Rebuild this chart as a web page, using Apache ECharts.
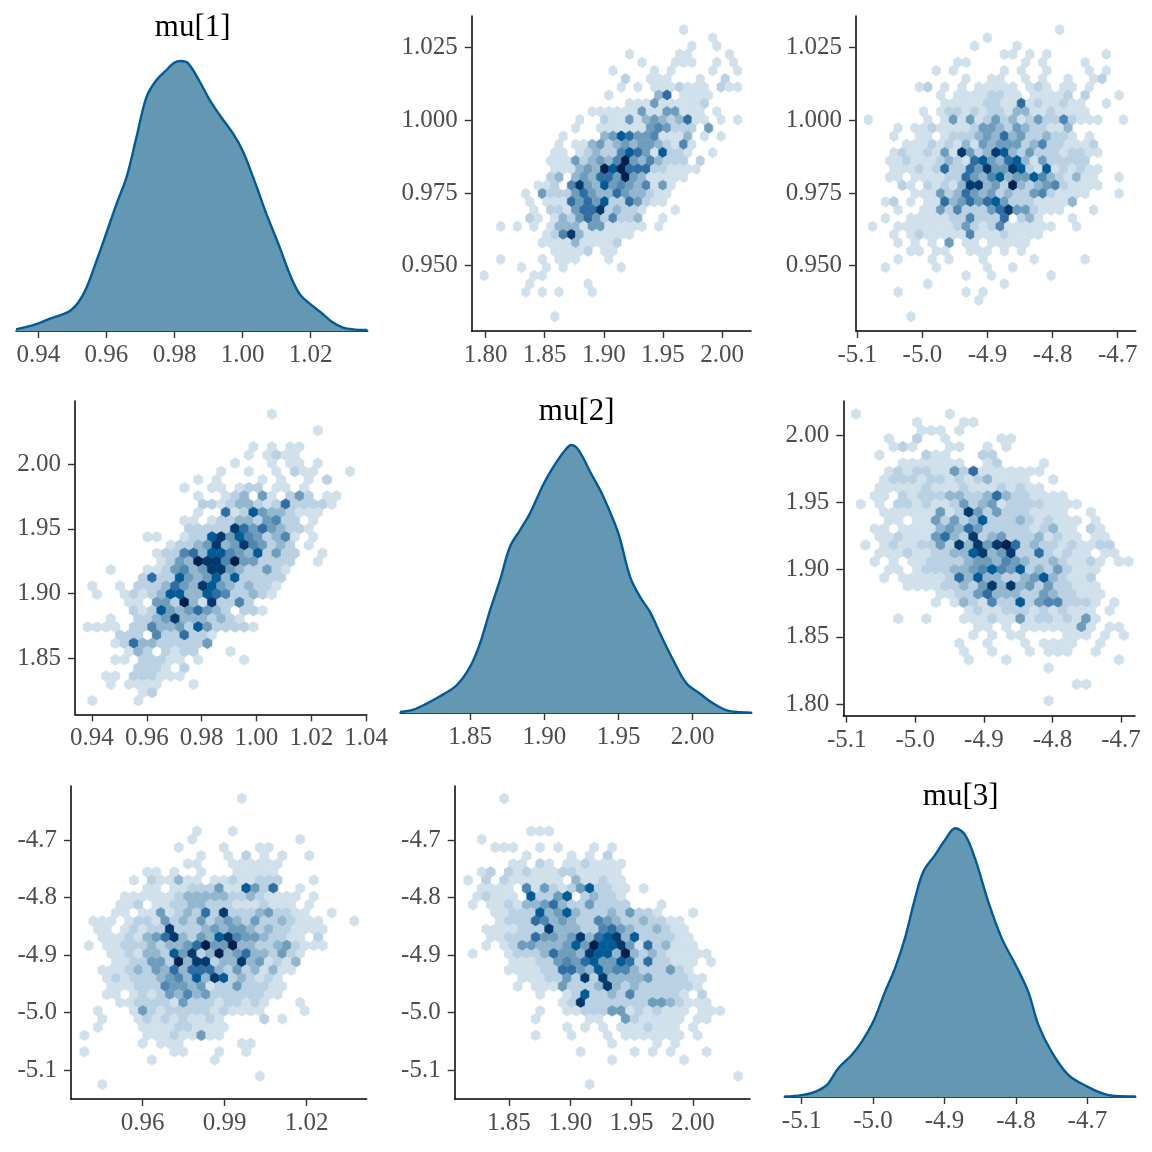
<!DOCTYPE html>
<html>
<head>
<meta charset="utf-8">
<title>mu pairs</title>
<script src="https://cdn.jsdelivr.net/npm/echarts@6/dist/echarts.min.js"></script>
<style>
  html, body { margin: 0; padding: 0; background: #fff; }
  #pairs { width: 1152px; height: 1152px; }
</style>
</head>
<body>
<div id="pairs"></div>
<script>
// ---------- values ----------
var paramNames = ['mu[1]', 'mu[2]', 'mu[3]'];

// density curves
var mu1DensX = [0.93345, 0.93658, 0.9400, 0.94342, 0.94636, 0.94929, 0.95174, 0.95418, 0.95712, 0.9599, 0.96298, 0.96592, 0.96885, 0.97179, 0.97472, 0.97765, 0.9799, 0.98186, 0.98401, 0.98743, 0.99037, 0.9933, 0.99721, 0.99995, 1.00308, 1.00699, 1.0109, 1.01384, 1.01677, 1.0199, 1.02362, 1.02655, 1.02949, 1.03242, 1.03662];
var mu1DensY = [0.17, 0.42, 0.80, 1.28, 1.63, 2.08, 2.95, 4.51, 7.29, 10.06, 13.19, 15.96, 20.13, 24.29, 26.03, 27.07, 27.83, 28.0, 27.76, 25.85, 23.94, 22.38, 20.47, 18.74, 15.96, 12.15, 8.68, 5.9, 3.82, 2.78, 1.74, 0.87, 0.35, 0.17, 0.1];
var mu2DensX = [1.8029, 1.8118, 1.8208, 1.8298, 1.8410, 1.8500, 1.8567, 1.8635, 1.8702, 1.8769, 1.8837, 1.8904, 1.8998, 1.9084, 1.9151, 1.9180, 1.9230, 1.9308, 1.9398, 1.9499, 1.9578, 1.9645, 1.9712, 1.9780, 1.9869, 1.9959, 2.0049, 2.0139, 2.0229, 2.0318, 2.0397];
var mu2DensY = [0.04, 0.14, 0.40, 0.71, 1.18, 1.96, 2.95, 4.37, 5.65, 7.07, 7.78, 8.49, 9.77, 10.69, 11.26, 11.4, 11.19, 10.27, 9.2, 7.64, 5.79, 4.94, 4.3, 3.38, 2.24, 1.25, 0.82, 0.4, 0.11, 0.03, 0.01];
var mu3DensX = [-5.1243, -5.1000, -5.0813, -5.0650, -5.0487, -5.0300, -5.0160, -4.9997, -4.9833, -4.9693, -4.9553, -4.9413, -4.9297, -4.9133, -4.8993, -4.8849, -4.8713, -4.8573, -4.8387, -4.8200, -4.8004, -4.7827, -4.7686, -4.7500, -4.7267, -4.7000, -4.6800, -4.6613, -4.6324];
var mu3DensY = [0.01, 0.04, 0.11, 0.25, 0.61, 0.89, 1.17, 1.6, 2.23, 2.73, 3.37, 4.21, 4.78, 5.13, 5.45, 5.7, 5.56, 5.06, 4.14, 3.37, 2.8, 2.23, 1.53, 0.96, 0.47, 0.22, 0.08, 0.02, 0.01];

// tick labels
var mu1Ticks = [0.94, 0.96, 0.98, 1.00, 1.02];
var mu1TicksWide = [0.94, 0.96, 0.98, 1.00, 1.02, 1.04];
var mu1TicksSparse = [0.96, 0.99, 1.02];
var mu1TicksY = [0.950, 0.975, 1.000, 1.025];
var mu2Ticks = [1.80, 1.85, 1.90, 1.95, 2.00];
var mu2TicksShort = [1.85, 1.90, 1.95, 2.00];
var mu3Ticks = [-5.1, -5.0, -4.9, -4.8, -4.7];

// hexbin lattices (data units): centre of col 0 / row 0, column and row spacing
var bins12 = { x0: 1.78816, dx: 0.007032, y0: 0.932466, dy: 0.002821 };
var bins13 = { x0: -5.08306, dx: 0.013057, y0: 0.932466, dy: 0.002821 };
var bins21 = { x0: 0.93676, dx: 0.0033577, y0: 1.81697, dy: 0.006339 };
var bins23 = { x0: -5.09334, dx: 0.013703, y0: 1.80248, dy: 0.006089 };
var bins31 = { x0: 0.938643, dx: 0.003293, y0: -5.12493, dy: 0.014203 };
var bins32 = { x0: 1.81305, dx: 0.007337, y0: -5.12493, dy: 0.014203 };

// hex counts per row: [row, first column, levels ('.' = empty)]
var hex12Rows = [
  [35,25,'1'], [34,29,'1'], [33,26,'1..1'], [32,19,'1.....11....1'],
  [31,20,'1...111..1.1'], [30,17,'1....1.1....1..1'], [29,18,'2..111...1..2'],
  [28,18,'1.1.1112111.211'], [27,16,'1.....36.1111'], [26,19,'1114111112'],
  [25,14,'11111141144111.1'], [24,13,'1..2114134323611.1.1'], [23,12,'1..111111454222.4'],
  [22,11,'1....34764451113.1.1'], [21,10,'1.113423434432151'], [20,10,'11.12322576417221..1'],
  [19,9,'11142343594353222.2'], [18,10,'111343979666221111'], [17,9,'23.34366494311111'],
  [16,8,'112.5843745435141'], [15,6,'1.4222464336433211'], [14,7,'1.111646472264211'],
  [13,7,'1.221466823221...1'], [12,7,'21.13246425223..1'], [11,3,'1.1.1.133314411111.1'],
  [10,9,'12583111111'], [9,8,'1111311112'], [8,10,'11112.11'], [7,3,'1....1.111...1'],
  [6,6,'1..1.1......1'], [5,1,'1.....11'], [4,7,'1......1'], [3,6,'1.1.1...1'], [0,10,'1']
];
var hex13Rows = [
  [35,22,'1'], [34,14,'1'], [33,12,'1....1'], [32,16,'11.1.1......1'],
  [31,10,'11......1.1....1'], [30,8,'1.1.....1.1..1....1.1'], [29,11,'1..11..1.1..1..12'],
  [28,6,'12.1.1.11111.121.11.1'], [27,8,'1.11112211.11112.2...1'], [26,9,'11111221161211211..1'],
  [25,6,'1.122121221331121111'], [24,0,'1......1.1414124231242252111..1'],
  [23,3,'1.1121111244324322113'], [22,3,'1..11.1222343634223221.1'],
  [21,4,'11121213143444235221112'], [20,3,'1211214184238732422212211'],
  [19,2,'112111232167436731422222'], [18,3,'1112126226484487217121211'],
  [17,2,'11.1111226435734475321311..1'], [16,4,'21.212138834293234521111'],
  [15,5,'111423643423224521111...1'], [14,2,'12.1.116346467422211113'],
  [13,3,'1..11425222468442111...1'], [12,2,'1..111112252226.231...1'],
  [11,0,'1..1111111242125111111..1'], [10,3,'1.1211111511121111'], [9,3,'1.1.1.4.11.11111'],
  [8,5,'11.11..111.1.1'], [7,3,'1...1.1...1.....1.....1'], [6,2,'1.....1.....1..1'],
  [5,11,'1..1......1'], [4,7,'1........1'], [3,3,'1.......1.1'], [2,13,'1'], [0,5,'1']
];
var hex21Rows = [
  [35,20,'1'], [33,25,'1'], [31,18,'1.1.11'], [30,18,'1.1211'], [29,16,'1...1.11.1'],
  [28,15,'1..1..1.211...1'], [27,12,'1.1....1.1..1.2'], [26,11,'1..11.122.11.1'],
  [25,12,'1..123.41.242.11'], [24,13,'221233212622221'], [23,12,'1..61274332111'],
  [22,11,'11.1223324522.1'], [21,11,'22222864643221'], [20,7,'11..1227847542351.1'],
  [19,9,'12234834854232.1'], [18,8,'1225637754372422..1'], [17,8,'124398859442222..1'],
  [16,3,'1...1124534884322421'], [15,6,'2622743473722222'], [14,1,'1..1.2223643874323221'],
  [13,1,'1..12123773376522321'], [12,5,'11.44293182252'], [11,5,'21274346432.221'],
  [10,3,'1..223483332321'], [9,0,'1111.22533427422221'], [8,4,'222.5226221'],
  [7,3,'12633222224'], [6,5,'132.2122...1'], [5,3,'11.22211.1....1'], [4,6,'2221.2'],
  [3,2,'11.222111'], [2,3,'1.1111...1'], [1,6,'12'], [0,1,'1....1']
];
var hex23Rows = [
  [35,0,'1.........1'], [34,7,'1....11'], [33,7,'111.1'], [32,4,'1..2..1.....11'],
  [31,4,'121...11..1.1'], [30,3,'1....211...22'], [29,5,'1111111..12....1'],
  [28,4,'12122114261111111'], [27,3,'1222122121231111..1'], [26,3,'111112111211121211'],
  [25,2,'11.212223322363221111'], [24,1,'1.1.22121124234122221111'],
  [23,3,'11111141284242221111..1'], [22,4,'11.114242372223212111.1'],
  [21,2,'11.1111343642222212311.21'], [20,3,'1121114632823422231211.11'],
  [19,1,'1.1211224283848962322121122'], [18,3,'11121122337834822621211.11'],
  [17,2,'1.1.112222344354322321121.11'], [16,4,'11.12223345754723242111'],
  [15,3,'1.111112637332234732112'], [14,6,'111122324838342422111'],
  [13,9,'112246333224322111'], [12,9,'1.1321522724552221.1'], [11,12,'12112221212111.1'],
  [10,5,'1..1...111211412212141'], [9,13,'11.1.11111141.11'], [8,13,'1.1.11....111.1.1'],
  [7,11,'1..1...1.1111..1'], [6,12,'1..1...1.111..1'], [5,12,'1...1...........1'],
  [4,21,'1'], [2,24,'11'], [0,21,'1']
];
var hex31Rows = [
  [35,17,'1'], [31,12,'1...1'], [30,12,'1...........1'], [29,10,'1....1...11'],
  [28,13,'1..1.2.1.1..1'], [27,11,'11...111111'], [26,7,'11.1..1...11111'],
  [25,5,'1.211311.11211222...1'], [24,7,'11.112224117426..1'], [23,4,'11111123333322321111.1'],
  [22,4,'112.1122332221112111.1'], [21,3,'11.1141232628222342211..1'],
  [20,1,'111.1221423242343242232111...1'], [19,1,'11.12122822234344323221111'],
  [18,2,'11121346832437854432211.2'], [17,0,'1.1122232334694493322342111'],
  [16,3,'1121332748239346332421'], [15,3,'112244293882338341213'],
  [14,2,'1112324363666324231311'], [13,2,'12122234537387232121'],
  [12,3,'11122254434122422211'], [11,2,'11.12124353422222211'],
  [10,4,'11222214222122121...1'], [9,1,'1...142122222121111....1'],
  [8,2,'1...1212121121....2.1'], [7,1,'1....1111221111'], [6,0,'1......111211411'],
  [5,6,'1.111......11'], [4,0,'1.........11...1..1'], [3,7,'1......1'], [1,19,'1'], [0,2,'1']
];
var hex32Rows = [
  [35,4,'1'], [31,7,'111'], [30,2,'1'], [29,3,'111..1.1...1.1'], [28,7,'1....1.1.2'],
  [27,5,'11.21.1121111'], [26,2,'12.2121112211111'], [25,0,'1.2.2111111.311211'],
  [24,2,'1111.514212472211.1'], [23,1,'12111.72247.23221'], [22,1,'1.1121334632242222...1'],
  [21,3,'1122273473222324221...1'], [20,4,'122265343225432232211'],
  [19,2,'11112228333225643223211'], [18,3,'11222644348367837222211'],
  [17,2,'1.1244333474977841623111'], [16,1,'1...12223644387739323211111'],
  [15,5,'111224546744762622111.1'], [14,5,'111122664374553222421'],
  [13,6,'111224282833334222211'], [12,6,'1.1114222383232222221'],
  [11,8,'1..12722325222221.2'], [10,11,'12822222224432111'], [9,8,'1..11222441212111.111'],
  [8,8,'1.....11..4211111.11'], [7,11,'1.1.1.1112111.1'], [6,8,'1...1...1.1111111.1'],
  [5,16,'1....1.1'], [4,13,'1.....1.1.1...1'], [3,16,'1.......1'], [1,30,'1'], [0,14,'1']
];

// ---------- styling / layout ----------
var hexColors = ['#d1e1ec', '#b9d1e3', '#93b6cf', '#6e9dbb', '#4f86b0', '#2f6ea3', '#005b96', '#03396c', '#011f4b'];
var serif = '"Liberation Serif", "Times New Roman", serif';
var tickFont = 25;

// panel boxes (px) and axis ranges
var panels = [
  { box: [16, 16, 351.7, 315],    x: [0.93345, 1.03674], xt: mu1Ticks, xd: 2, dens: true, ymax: 32.67 },
  { box: [471.7, 16, 279.3, 315], x: [1.7882, 2.0245],  xt: mu2Ticks, xd: 2, y: [0.9275, 1.0359], yt: mu1TicksY, yd: 3 },
  { box: [856, 16, 279.7, 315],   x: [-5.102, -4.6724], xt: mu3Ticks, xd: 1, y: [0.9275, 1.0359], yt: mu1TicksY, yd: 3 },
  { box: [75, 401, 291.7, 313.3], x: [0.9338, 1.0402],  xt: mu1TicksWide, xd: 2, y: [1.8064, 2.049], yt: mu2TicksShort, yd: 2 },
  { box: [400, 401, 351.7, 312],  x: [1.80285, 2.0397], xt: mu2TicksShort, xd: 2, dens: true, ymax: 13.27 },
  { box: [843.3, 401, 291.7, 314.7], x: [-5.105, -4.6796], xt: mu3Ticks, xd: 1, y: [1.7913, 2.0253], yt: mu2Ticks, yd: 2 },
  { box: [71, 786, 295.7, 313],   x: [0.93377, 1.042],  xt: mu1TicksSparse, xd: 2, y: [-5.1504, -4.6061], yt: mu3Ticks, yd: 1 },
  { box: [454.7, 786, 295.3, 313], x: [1.80573, 2.0465], xt: mu2TicksShort, xd: 2, y: [-5.1504, -4.6061], yt: mu3Ticks, yd: 1 },
  { box: [784.3, 786, 351.4, 311], x: [-5.1243, -4.6323], xt: mu3Ticks, xd: 1, dens: true, ymax: 6.597 }
];

function hexCells(bins, rows) {
  var out = [];
  rows.forEach(function (r) {
    var row = r[0], start = r[1], s = r[2];
    for (var k = 0; k < s.length; k++) {
      if (s[k] === '.') continue;
      var c = start + k;
      var off = (row % 2 === 1) ? 0.5 : 0;
      out.push([bins.x0 + (c + off) * bins.dx, bins.y0 + row * bins.dy, +s[k]]);
    }
  });
  return out;
}

function zip(xs, ys) {
  return xs.map(function (x, i) { return [x, ys[i]]; });
}

function axisBase(i, min, max, ticks, digits, isY) {
  return {
    type: 'value', gridIndex: i, min: min, max: max,
    axisLine: { show: true, onZero: false, lineStyle: { color: '#000', width: 1.5 } },
    axisTick: { show: true, length: 7, customValues: ticks, lineStyle: { color: '#333', width: 1.4 } },
    axisLabel: {
      show: true, customValues: ticks, margin: isY ? 14 : 12,
      color: '#4d4d4d', fontSize: tickFont, fontFamily: serif,
      formatter: function (v) { return (+v).toFixed(digits); }
    },
    splitLine: { show: false }
  };
}

var grids = [], xAxes = [], yAxes = [], series = [];
panels.forEach(function (p, i) {
  grids.push({ left: p.box[0], top: p.box[1], width: p.box[2], height: p.box[3] });
  xAxes.push(axisBase(i, p.x[0], p.x[1], p.xt, p.xd, false));
  if (p.dens) {
    yAxes.push({ type: 'value', gridIndex: i, min: 0, max: p.ymax, show: false, splitLine: { show: false } });
  } else {
    yAxes.push(axisBase(i, p.y[0], p.y[1], p.yt, p.yd, true));
  }
});

function densSeries(i, xs, ys) {
  return {
    type: 'line', xAxisIndex: i, yAxisIndex: i, data: zip(xs, ys),
    smooth: 0.35, showSymbol: false, silent: true, z: 1,
    lineStyle: { color: '#005b96', width: 2.4 },
    areaStyle: { color: '#6497b1', opacity: 1 }
  };
}

function hexSeries(i, bins, rows) {
  return {
    type: 'custom', xAxisIndex: i, yAxisIndex: i, silent: true,
    data: hexCells(bins, rows),
    renderItem: function (params, api) {
      var cx = api.value(0), cy = api.value(1), lv = api.value(2);
      var hw = bins.dx / 2, r = bins.dy * 2 / 3;
      var pts = [
        [cx, cy + r], [cx + hw, cy + r / 2], [cx + hw, cy - r / 2],
        [cx, cy - r], [cx - hw, cy - r / 2], [cx - hw, cy + r / 2]
      ].map(function (p) { return api.coord(p); });
      var col = hexColors[lv - 1];
      return { type: 'polygon', shape: { points: pts }, style: { fill: col, stroke: col, lineWidth: 0.5 } };
    }
  };
}

series.push(densSeries(0, mu1DensX, mu1DensY));
series.push(hexSeries(1, bins12, hex12Rows));
series.push(hexSeries(2, bins13, hex13Rows));
series.push(hexSeries(3, bins21, hex21Rows));
series.push(densSeries(4, mu2DensX, mu2DensY));
series.push(hexSeries(5, bins23, hex23Rows));
series.push(hexSeries(6, bins31, hex31Rows));
series.push(hexSeries(7, bins32, hex32Rows));
series.push(densSeries(8, mu3DensX, mu3DensY));

var titlePos = [[192.7, 28], [576.7, 411.7], [960.7, 796.7]];
var graphics = paramNames.map(function (name, k) {
  return {
    type: 'text', x: titlePos[k][0], y: titlePos[k][1], z: 10,
    style: { text: name, fill: '#000', fontSize: 31, fontFamily: serif, align: 'center', verticalAlign: 'middle' }
  };
});

var chart = echarts.init(document.getElementById('pairs'), null, { renderer: 'canvas' });
chart.setOption({
  backgroundColor: '#fff',
  animation: false,
  grid: grids,
  xAxis: xAxes,
  yAxis: yAxes,
  series: series,
  graphic: graphics
});
</script>
</body>
</html>
